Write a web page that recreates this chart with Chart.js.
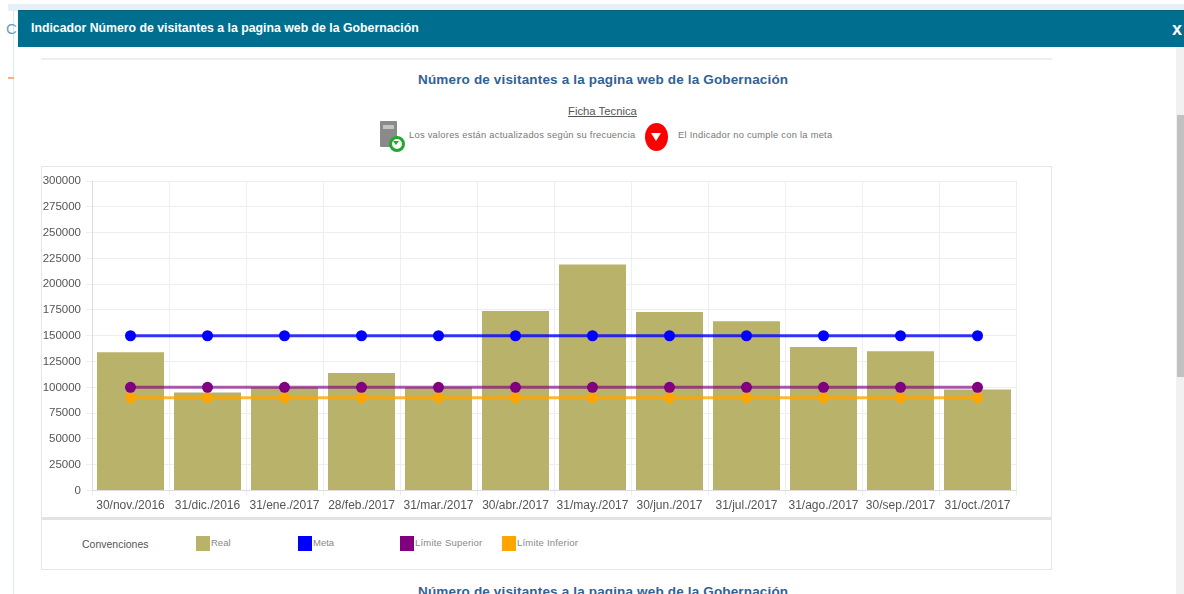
<!DOCTYPE html>
<html lang="es"><head><meta charset="utf-8">
<script src="https://cdn.jsdelivr.net/npm/chart.js@4"></script>
<style>
html,body{margin:0;padding:0;background:#fff;overflow:hidden}
#page{position:relative;width:1184px;height:594px;overflow:hidden;font-family:"Liberation Sans",Arial,sans-serif;filter:blur(.7px);background:#fff}
#page div,#page span{position:absolute;white-space:nowrap}
</style></head><body>
<div id="page">
 <div style="left:8px;top:4px;width:1176px;height:7px;background:#e6f0f6"></div>
 <div style="left:13px;top:10px;width:1px;height:584px;background:#d8e8f4"></div>
 <div style="left:6px;top:20px;color:#6a9cc0;font-size:15px">C</div>
 <div style="left:8px;top:77px;width:6px;height:2px;background:#f4b183"></div>
 <div style="left:18px;top:10px;width:1166px;height:37px;background:#006f8f;border-top:1px solid #0a5f78;box-sizing:border-box"></div>
 <div style="left:31px;top:20px;color:#fff;font-weight:bold;font-size:13px;transform:scaleX(.945);transform-origin:0 50%">Indicador Número de visitantes a la pagina web de la Gobernación</div>
 <div style="left:1172px;top:19px;color:#fff;font-weight:bold;font-size:18px">x</div>
 <div style="left:1176px;top:47px;width:8px;height:547px;background:#f1f1f1"></div>
 <div style="left:1177px;top:115px;width:7px;height:262px;background:#c1c1c1"></div>
 <div style="left:41px;top:58px;width:1011px;height:2px;background:#eeeeee"></div>
 <div style="left:418px;top:72px;color:#2f6295;font-weight:bold;font-size:13.5px;letter-spacing:.16px">Número de visitantes a la pagina web de la Gobernación</div>
 <div style="left:568px;top:105px;color:#555;font-size:11.3px;text-decoration:underline">Ficha Tecnica</div>
 <div style="left:380px;top:121px;width:17px;height:26px;background:#8a8a8a;border-radius:1px"></div>
 <div style="left:383px;top:125px;width:11px;height:4px;background:#c4c4c4"></div>
 <div style="left:389px;top:136px;width:10px;height:10px;border:3px solid #22a82e;border-radius:50%;background:#fff"></div>
 <div style="left:393px;top:141px;width:0;height:0;border-left:3px solid transparent;border-right:3px solid transparent;border-top:4px solid #22a82e"></div>
 <div style="left:409px;top:130px;color:#777;font-size:9.3px;letter-spacing:.27px">Los valores están actualizados según su frecuencia</div>
 <div style="left:645px;top:123px;width:23px;height:28px;background:#f00;border-radius:50%"></div>
 <div style="left:651px;top:133px;width:0;height:0;border-left:5px solid transparent;border-right:5px solid transparent;border-top:8px solid #fff"></div>
 <div style="left:678px;top:130px;color:#777;font-size:9.3px;letter-spacing:.27px">El Indicador no cumple con la meta</div>
 <div style="left:41px;top:166px;width:1009px;height:402px;border:1px solid #e6e6e6"></div>
 <div style="left:42px;top:517px;width:1009px;height:3px;background:#e3e3e3"></div>
 <div style="left:41px;top:166px;width:1011px;height:352px"><canvas id="c" width="1011" height="352" style="position:absolute;left:0;top:0;width:1011px;height:352px"></canvas></div>
 <div style="left:82px;top:538px;color:#555;font-size:10.5px">Convenciones</div>
 <div style="left:196px;top:536px;width:14px;height:15px;background:#B9B26A"></div>
 <div style="left:211px;top:537px;color:#888;font-size:9.5px">Real</div>
 <div style="left:298px;top:536px;width:14px;height:15px;background:#0000FF"></div>
 <div style="left:313px;top:537px;color:#888;font-size:9.5px">Meta</div>
 <div style="left:400px;top:536px;width:14px;height:15px;background:#800080"></div>
 <div style="left:415px;top:537px;color:#888;font-size:9.5px;letter-spacing:.2px">Límite Superior</div>
 <div style="left:502px;top:536px;width:14px;height:15px;background:#FFA500"></div>
 <div style="left:517px;top:537px;color:#888;font-size:9.5px;letter-spacing:.2px">Límite Inferior</div>
 <div style="left:418px;top:584px;color:#2f6295;font-weight:bold;font-size:13.5px;letter-spacing:.16px">Número de visitantes a la pagina web de la Gobernación</div>
</div>
<script>
const categories = ["30/nov./2016","31/dic./2016","31/ene./2017","28/feb./2017","31/mar./2017","30/abr./2017","31/may./2017","30/jun./2017","31/jul./2017","31/ago./2017","30/sep./2017","31/oct./2017"];
const real = [134000,95000,100000,114000,100000,174000,219000,173000,164000,139000,135000,98000];
const meta = [150000,150000,150000,150000,150000,150000,150000,150000,150000,150000,150000,150000];
const limiteSuperior = [100000,100000,100000,100000,100000,100000,100000,100000,100000,100000,100000,100000];
const limiteInferior = [90000,90000,90000,90000,90000,90000,90000,90000,90000,90000,90000,90000];
function line(label,data,solid,soft,order){
  return {type:'line',label,data,borderColor:soft,backgroundColor:solid,pointBackgroundColor:solid,pointBorderColor:solid,
    borderWidth:3,pointRadius:5.5,pointBorderWidth:0,tension:0,fill:false,order};
}
new Chart(document.getElementById('c'),{
  data:{labels:categories,datasets:[
    line('Meta',meta,'#0000FF','rgba(0,0,255,.8)',1),
    line('Límite Superior',limiteSuperior,'#800080','rgba(128,0,128,.65)',2),
    line('Límite Inferior',limiteInferior,'#FFA500','rgba(255,165,0,.8)',3),
    {type:'bar',label:'Real',data:real,backgroundColor:'#B9B26A',borderWidth:0,barPercentage:.87,categoryPercentage:1,order:4}
  ]},
  options:{responsive:false,animation:false,
    layout:{padding:{top:15,right:36,bottom:0,left:0}},
    plugins:{legend:{display:false},title:{display:false},tooltip:{enabled:false}},
    scales:{
      x:{grid:{color:'#eeeeee',tickLength:5,offset:true},border:{color:'#dddddd'},
         ticks:{color:'#555',font:{family:'"Liberation Sans",Arial,sans-serif',size:12},maxRotation:0,autoSkip:false,padding:3},
         afterFit(s){s.height=27.5;}},
      y:{min:0,max:300000,grid:{color:'#eeeeee',tickLength:6},border:{color:'#dddddd'},
         ticks:{stepSize:25000,color:'#555',font:{family:'"Liberation Sans",Arial,sans-serif',size:11.5},padding:5,callback:v=>String(v)},
         afterFit(s){s.width=51;}}
    }
  }
});
</script>
</body></html>
